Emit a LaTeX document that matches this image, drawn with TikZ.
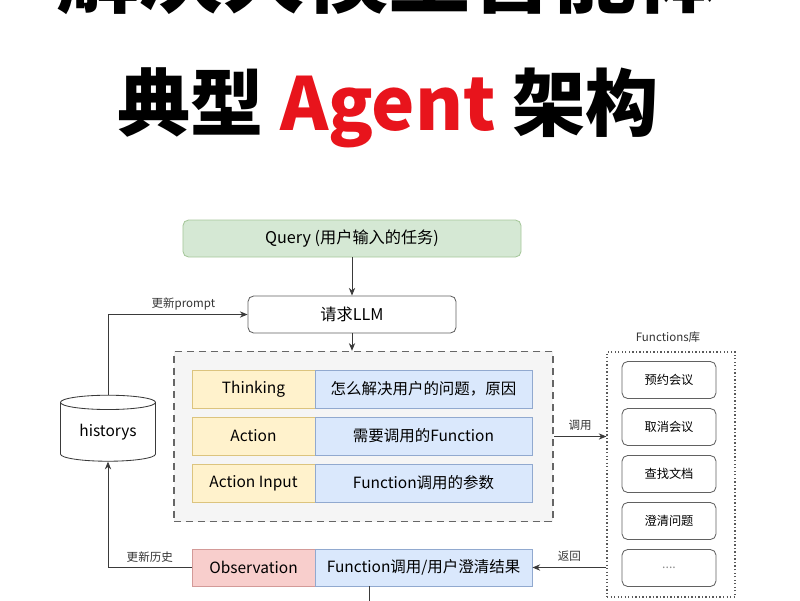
\documentclass[tikz,border=0pt]{standalone}
\usepackage{fontspec}
\setmainfont{Noto Sans CJK SC}
\usetikzlibrary{arrows.meta}
\usetikzlibrary{calc}
\usetikzlibrary{shapes.geometric}

\definecolor{querygreen}{HTML}{D5E8D4}
\definecolor{querygreenline}{HTML}{A6C79B}
\definecolor{keyyellow}{HTML}{FFF2CC}
\definecolor{keyyellowline}{HTML}{DCC47E}
\definecolor{valblue}{HTML}{DAE8FC}
\definecolor{valblueline}{HTML}{91A9CF}
\definecolor{obsred}{HTML}{F8CECC}
\definecolor{obsredline}{HTML}{D39A98}
\definecolor{agentred}{HTML}{E8141C}
\definecolor{linegray}{HTML}{3A3A3A}

\begin{document}
\begin{tikzpicture}[x=0.025cm,y=-0.025cm,font=\fontsize{11}{13}\selectfont,
	>={Stealth[length=5.5pt,width=4.5pt]},
	conn/.style={draw=linegray,line width=0.6pt},
	flat/.style={draw=#1line,fill=#1,line width=0.6pt,inner sep=0pt,minimum height=0.95cm},
	roundbox/.style={draw=linegray!80,fill=white,rounded corners=4pt,line width=0.6pt,inner sep=0pt,minimum height=0.925cm},
	tag/.style={font=\fontsize{8.2}{10}\selectfont,text=black!80,inner sep=1pt}]
	\useasboundingbox (0,0) rectangle (800,600);
	\clip (0,0) rectangle (800,600);
	\node[font=\fontsize{59}{70}\selectfont\bfseries] (title) at (388,-25) {解决大模型智能体};
	\node[font=\fontsize{52}{62}\selectfont\bfseries] (subtitle) at (388,108) {典型 \textcolor{agentred}{Agent} 架构};

	\node[flat=querygreen,rounded corners=4pt,minimum height=0.925cm,minimum width=8.45cm,font=\fontsize{11.5}{13}\selectfont] (query) at (352,238.5) {Query (用户输入的任务)};
	\node[roundbox,minimum width=5.2cm,font=\fontsize{11.5}{13}\selectfont] (llm) at (352,314.5) {请求LLM};

	\node[draw=black!60,fill=black!4,dash pattern=on 5pt off 3.5pt,line width=1pt,minimum width=9.475cm,minimum height=4.25cm] (steps) at (363.5,436.5) {};
	\foreach \name/\key/\val/\y in {think/Thinking/怎么解决用户的问题，原因/389, act/Action/需要调用的Function/436, input/Action Input/Function调用的参数/483} {
		\node[flat=keyyellow,minimum width=3.075cm] (\name-key) at (253.5,\y) {\key};
		\node[flat=valblue,minimum width=5.425cm] (\name-val) at (423.5,\y) {\val};
	}
	\node[flat=obsred,minimum width=3.075cm,minimum height=0.925cm] (obs) at (253.5,567.5) {Observation};
	\node[flat=valblue,minimum width=5.425cm,minimum height=0.925cm] (result) at (423.5,567.5) {Function调用/用户澄清结果};

	\node[cylinder,shape border rotate=90,draw=linegray,line width=0.6pt,aspect=0.25,minimum width=2.375cm,minimum height=1.65cm,inner sep=0pt] (hist) at (108,432) {historys};

	\node[tag] (funclabel) at (668,337) {Functions库};
	\node[draw=black!65,line width=0.8pt,dash pattern=on 1pt off 1.5pt,minimum width=3.2cm,minimum height=6.125cm] (funcs) at (671,474.5) {};
	\foreach \i/\txt/\y in {1/预约会议/380, 2/取消会议/427, 3/查找文档/474, 4/澄清问题/521, 5/{\textcolor{black!45}{....}}/568} {
		\node[roundbox,minimum width=2.35cm,font=\fontsize{8.7}{10}\selectfont] (func\i) at (669,\y) {\txt};
	}

	\draw[conn,->] (query) -- (llm);
	\draw[conn,->] (llm) -- (llm.south |- steps.north);
	\draw[conn,->] (steps.east) -- (steps.east -| funcs.west) node[tag,midway,above=3pt] {调用};
	\draw[conn,->] (funcs.west |- result) -- (result) node[tag,midway,above=3pt] {返回};
	\draw[conn,->] (hist) |- (llm) node[tag,pos=0.77,above=2pt] {更新prompt};
	\draw[conn,->] (obs) -| (hist) node[tag,pos=0.25,above=2pt] {更新历史};
	\coordinate (bottom) at (369,615);
	\draw[conn] (result.south -| bottom) -- (bottom);
\end{tikzpicture}
\end{document}
